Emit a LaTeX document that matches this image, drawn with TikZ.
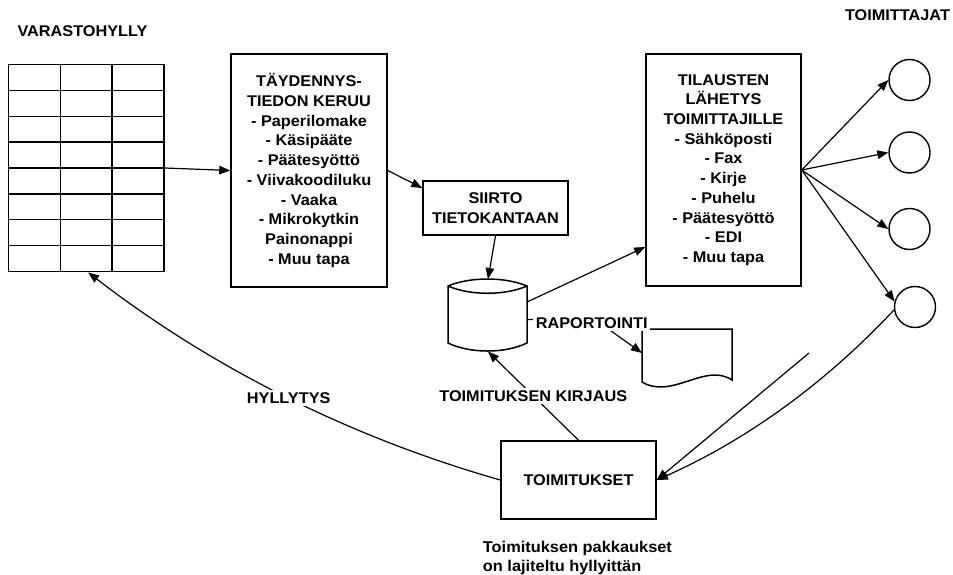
\documentclass[tikz,border=0pt]{standalone}
\usepackage{fontspec}
\setmainfont{Liberation Sans}[FakeStretch=1.05]
\usetikzlibrary{arrows.meta}
\begin{document}
\begin{tikzpicture}[x=1pt,y=-1pt,
  every node/.style={font=\bfseries\fontsize{15.5}{19.7}\selectfont},
  box/.style={draw, line width=1.5pt, align=center, inner sep=0pt},
  lbl/.style={fill=white, inner sep=2.5pt},
  conn/.style={line width=1.2pt, -{Triangle[length=11pt,width=8.5pt]}},
  outline/.style={draw, line width=1.5pt},
  supplier/.style={draw, circle, line width=1.4pt, minimum size=41pt, inner sep=0pt}
]
\fill[white] (0,0) rectangle (953,575);
\useasboundingbox (0,0) rectangle (953,575);

% titles
\node (shelftitle) at (82.5,31) {VARASTOHYLLY};
\node (suptitle) at (897.5,15) {TOIMITTAJAT};

% storage shelf
\node[box, minimum width=155.7pt, minimum height=207.4pt] (shelf) at (86.2,168) {};
\foreach \yy in {1,...,7}
  \draw[line width=1.2pt] (8.3,64.3+\yy*25.925) -- (164,64.3+\yy*25.925);
\foreach \xx in {60.7,112}
  \draw[line width=1.2pt] (\xx,64.3) -- (\xx,271.7);

% process boxes
\node[box, minimum width=156pt, minimum height=233pt] (box1) at (309,170.5)
  {TÄYDENNYS-\\TIEDON KERUU\\- Paperilomake\\- Käsipääte\\- Päätesyöttö\\- Viivakoodiluku\\- Vaaka\\- Mikrokytkin\\Painonappi\\- Muu tapa};
\node[box, minimum width=145pt, minimum height=54pt] (box2) at (495.5,208)
  {SIIRTO\\TIETOKANTAAN};
\node[box, minimum width=155pt, minimum height=232pt] (box3) at (723.5,170)
  {TILAUSTEN\\LÄHETYS\\TOIMITTAJILLE\\- Sähköposti\\- Fax\\- Kirje\\- Puhelu\\- Päätesyöttö\\- EDI\\- Muu tapa};
\node[box, minimum width=155pt, minimum height=78pt] (box4) at (578.5,480) {TOIMITUKSET};

% suppliers
\node[supplier] (c1) at (909.5,80) {};
\node[supplier] (c2) at (909.5,152.5) {};
\node[supplier] (c3) at (909.5,229) {};
\node[supplier] (c4) at (915,307) {};

% database drum
\draw[outline] (448,286) .. controls (470,276.7) and (505,276.7) .. (527,286)
  -- (527,343) .. controls (505,353.7) and (470,353.7) .. (448,343) -- cycle;
\draw[outline] (448,286) .. controls (470,295.7) and (505,295.7) .. (527,286);
\coordinate (dbtop) at (488,279);
\coordinate (dbbot) at (488,351.5);
\coordinate (dbright) at (527,302);
\coordinate (dbrap) at (527,319.5);
\coordinate (rapbend) at (595,319.5);

% report document
\draw[outline] (642,329) -- (732,329) -- (732,380)
  .. controls (705,362) and (672,400) .. (642,382) -- cycle;
\coordinate (docin) at (642,353);
\coordinate (loose) at (809,353);

% connectors
\draw[conn] (shelf.east) -- (box1.west);
\draw[conn] (box1.east) -- ([yshift=20pt]box2.west);
\draw[conn] (box2.south) -- (dbtop);
\draw[conn] (dbright) -- ([yshift=-77pt]box3.west);
\draw[conn] (dbrap) -- (rapbend) -- (docin);
\node[lbl] (rap) at (591.7,323.5) {RAPORTOINTI};
\draw[conn] (box4.north) -- (dbbot) node[lbl, pos=0.5] (kirjaus) {TOIMITUKSEN KIRJAUS};
\draw[conn] (box3.east) -- (c1.west);
\draw[conn] (box3.east) -- (c2.west);
\draw[conn] (box3.east) -- (c3.west);
\draw[conn] (box3.east) -- (c4.165);
\draw[conn] (c4.188) .. controls (825.3,383.3) and (746.7,440) .. (box4.east);
\draw[conn] (loose) -- (box4.east);
\draw[conn] (box4.west) .. controls (350.2,437.2) and (212.5,368.2) .. ([xshift=2pt]shelf.south)
  node[lbl, pos=0.49] (hyll) {HYLLYTYS};

% note under the deliveries box
\node[anchor=west, align=left, inner sep=0pt, font=\bfseries\fontsize{15.6}{18.4}\selectfont] (note) at (482.7,558)
  {Toimituksen pakkaukset\\on lajiteltu hyllyittän};
\end{tikzpicture}
\end{document}
